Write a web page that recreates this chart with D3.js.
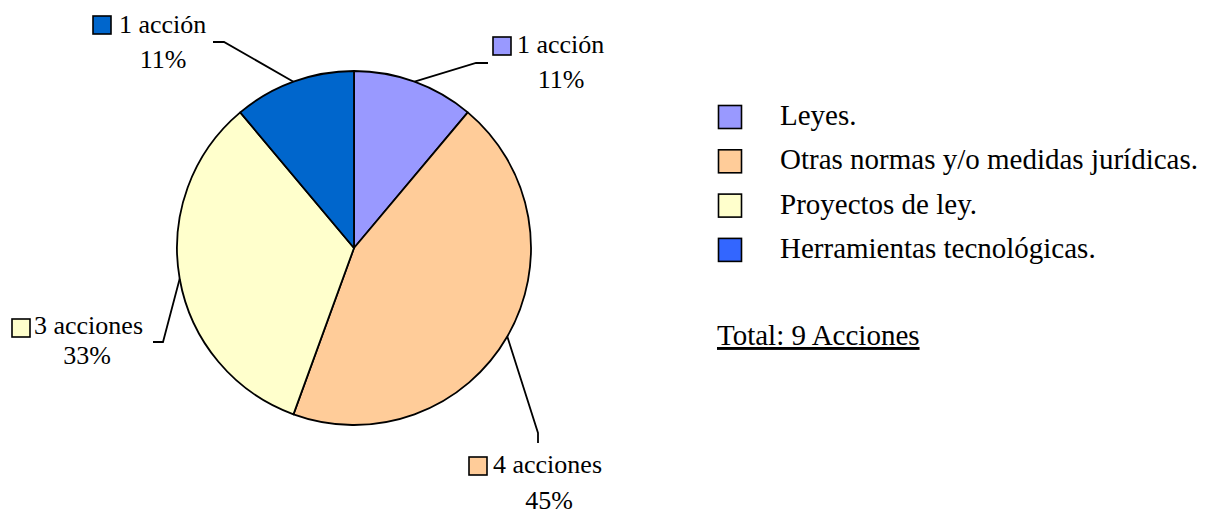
<!DOCTYPE html>
<html>
<head>
<meta charset="utf-8">
<title>Acciones</title>
<script src="https://d3js.org/d3.v7.min.js"></script>
<style>
  body { margin: 0; background: #fff; }
</style>
</head>
<body>
<svg width="1205" height="514"></svg>
<script>
// data
const categories = ["Leyes.", "Otras normas y/o medidas jurídicas.", "Proyectos de ley.", "Herramientas tecnológicas."];
const values = [1, 4, 3, 1];
const valueLabels = ["1 acción", "4 acciones", "3 acciones", "1 acción"];
const pctLabels = ["11%", "45%", "33%", "11%"];
const sliceColors = ["#9999FF", "#FFCC99", "#FFFFCC", "#0066CC"];
const legendColors = ["#9999FF", "#FFCC99", "#FFFFCC", "#3366FF"];
const totalLabel = "Total: 9 Acciones";

// where each data label sits (box left/top, text baselines, leader elbow)
const labelLayout = [
  { box: [493, 37], text: [517, 53], pct: [561, 88], elbow: [476, 63], end: [488, 63] },
  { box: [469, 457], text: [493, 473], pct: [549, 509], elbow: [538, 433], end: [538, 443] },
  { box: [12, 319], text: [34, 334], pct: [87, 364], elbow: [163, 342], end: [153, 342] },
  { box: [93, 16], text: [119, 33], pct: [163, 68], elbow: [224, 42], end: [213, 42] }
];

const FONT = "'Liberation Serif', 'Times New Roman', 'DejaVu Serif', serif";

const svg = d3.select("svg");
const cx = 354, cy = 248, r = 177;

const pie = d3.pie().sort(null).value(d => d)(values);
const arc = d3.arc().innerRadius(0).outerRadius(r);

const g = svg.append("g").attr("transform", `translate(${cx},${cy})`);

g.selectAll("path")
  .data(pie)
  .enter().append("path")
    .attr("d", arc)
    .attr("fill", (d, i) => sliceColors[i])
    .attr("stroke", "#000")
    .attr("stroke-width", 1.8)
    .attr("stroke-linejoin", "round");

// leader lines + data labels
pie.forEach((d, i) => {
  const a = (d.startAngle + d.endAngle) / 2;
  const px = cx + r * Math.sin(a), py = cy - r * Math.cos(a);
  const L = labelLayout[i];
  svg.append("polyline")
    .attr("points", [[px, py], L.elbow, L.end].map(p => p.join(",")).join(" "))
    .attr("fill", "none")
    .attr("stroke", "#000")
    .attr("stroke-width", 1.8);

  svg.append("rect")
    .attr("x", L.box[0]).attr("y", L.box[1])
    .attr("width", 18).attr("height", 18)
    .attr("fill", sliceColors[i])
    .attr("stroke", "#000").attr("stroke-width", 1.6);

  svg.append("text")
    .attr("x", L.text[0]).attr("y", L.text[1])
    .attr("font-family", FONT)
    .attr("font-size", 26)
    .text(valueLabels[i]);

  svg.append("text")
    .attr("x", L.pct[0]).attr("y", L.pct[1])
    .attr("text-anchor", "middle")
    .attr("font-family", FONT)
    .attr("font-size", 26)
    .text(pctLabels[i]);
});

// legend
const legend = svg.append("g").attr("transform", "translate(718,105)");
const row = legend.selectAll("g")
  .data(categories)
  .enter().append("g")
    .attr("transform", (d, i) => `translate(0,${i * 44.3})`);

row.append("rect")
  .attr("width", 23).attr("height", 23)
  .attr("x", 0.5).attr("y", 0.5)
  .attr("fill", (d, i) => legendColors[i])
  .attr("stroke", "#000").attr("stroke-width", 1.6);

row.append("text")
  .attr("x", 62).attr("y", 20)
  .attr("font-family", FONT)
  .attr("font-size", 29)
  .text(d => d);

svg.append("text")
  .attr("x", 717).attr("y", 345)
  .attr("font-family", FONT)
  .attr("font-size", 29)
  .attr("text-decoration", "underline")
  .text(totalLabel);
</script>
</body>
</html>
